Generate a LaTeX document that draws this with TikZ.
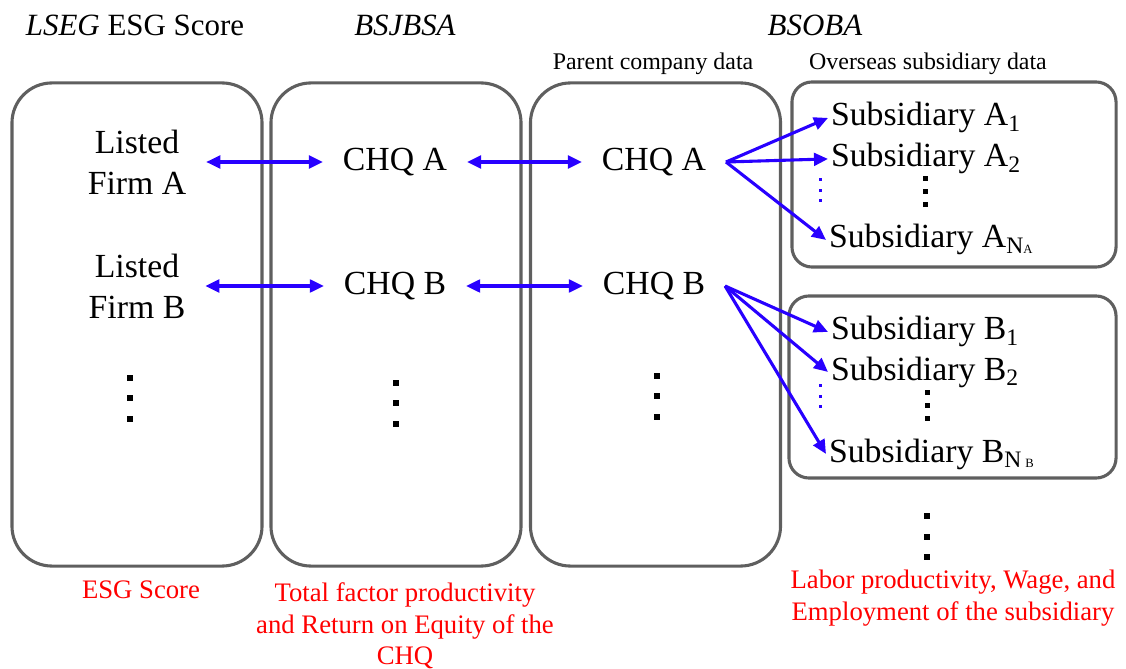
\documentclass[tikz,border=0pt]{standalone}
\usepackage{fontspec}
\setmainfont{Liberation Serif}
\usetikzlibrary{arrows.meta}
\definecolor{linkblue}{RGB}{40,0,255}
\definecolor{framegray}{RGB}{95,95,95}
\newcommand{\tinysub}[1]{{\fontsize{9}{9}\selectfont #1}}
\tikzset{%
  srcbox/.style    = {shape=rectangle, draw=framegray, line width=2.2pt,%
                      rounded corners=1cm},%
  subbox/.style    = {srcbox, rounded corners=0.5cm},%
  unit/.style      = {align=center, inner xsep=14pt,%
                      font=\fontsize{24}{29}\selectfont},%
  subname/.style   = {anchor=base west, inner xsep=2pt,%
                      font=\fontsize{24}{29}\selectfont},%
  srctitle/.style  = {font=\fontsize{22}{26}\selectfont},%
  subtitle/.style  = {font=\fontsize{17}{20}\selectfont},%
  varnote/.style   = {align=center, text=red,%
                      font=\fontsize{19}{22.5}\selectfont},%
  link/.style      = {draw=linkblue, line width=2.2pt,%
                      -{Triangle[length=10pt,width=9pt]}},%
  dlink/.style     = {link, {Triangle[length=10pt,width=9pt]}-{Triangle[length=10pt,width=9pt]}}%
}
\begin{document}
\begin{tikzpicture}[x=0.025cm,y=-0.025cm]
  \useasboundingbox (0,0) rectangle (1126,669);
  % data sources
  \node[srctitle] (tesg) at (135,25) {\textit{LSEG} ESG Score};
  \node[srctitle] (tbsj) at (405,25) {\textit{BSJBSA}};
  \node[srctitle] (tbso) at (815,25) {\textit{BSOBA}};
  \node[subtitle] (tpar) at (653,64) {Parent company data};
  \node[subtitle] (tovs) at (928,64) {Overseas subsidiary data};
  \node[srcbox, minimum width=6.25cm, minimum height=12.075cm] (esg) at (137,324.5) {};
  \node[srcbox, minimum width=6.25cm, minimum height=12.075cm] (bsj) at (396,324.5) {};
  \node[srcbox, minimum width=6.25cm, minimum height=12.075cm] (bso) at (655.5,324.5) {};
  \node[subbox, minimum width=8.1cm, minimum height=4.625cm] (subsA) at (954,174.5) {};
  \node[subbox, minimum width=8.175cm, minimum height=4.55cm] (subsB) at (952.5,387) {};
  % firms and CHQs
  \node[unit] (firmA) at (137,162) {Listed\\Firm A};
  \node[unit] (firmB) at (137,286) {Listed\\Firm B};
  \node[unit] (chqA) at (395,162) {CHQ A};
  \node[unit] (chqB) at (395,286) {CHQ B};
  \node[unit] (parA) at (654,162) {CHQ A};
  \node[unit] (parB) at (654,286) {CHQ B};
  % subsidiaries
  \node[subname] (subA1) at (828,126) {Subsidiary A\textsubscript{1}};
  \node[subname] (subA2) at (828,167) {Subsidiary A\textsubscript{2}};
  \node[subname] (subAN) at (826,248) {Subsidiary A\textsubscript{N\tinysub{A}}};
  \node[subname] (subB1) at (828,340) {Subsidiary B\textsubscript{1}};
  \node[subname] (subB2) at (828,380) {Subsidiary B\textsubscript{2}};
  \node[subname] (subBN) at (826,462) {Subsidiary B\textsubscript{N\,\tinysub{B}}};
  % links
  \draw[dlink] (firmA.east) -- (chqA.west);
  \draw[dlink] (firmB.east) -- (chqB.west);
  \draw[dlink] (chqA.east) -- (parA.west);
  \draw[dlink] (chqB.east) -- (parB.west);
  \foreach \s in {subA1,subA2,subAN}
    \draw[link] (parA.east) -- (\s.west);
  \foreach \s in {subB1,subB2,subBN}
    \draw[link] (parB.east) -- (\s.west);
  % vertical dots
  \foreach \x/\y in {130/378,396/383,657/376,927/516}
    \foreach \k in {0,1,2}
      \fill (\x-3,\y+\k*20.5-3) rectangle +(6,6);
  \foreach \x/\y in {925/179,927/393}
    \foreach \k in {0,1,2}
      \fill (\x-2.5,\y+\k*13-2.5) rectangle +(5,5);
  \foreach \y in {180,386}
    \foreach \k in {0,1,2}
      \fill[linkblue] (820-1.5,\y+\k*10.5-1.5) rectangle +(3,3);
  % variables
  \node[varnote] (vesg) at (141,590) {ESG Score};
  \node[varnote] (vchq) at (405,626) {Total factor productivity\\and Return on Equity of the\\CHQ};
  \node[varnote] (vsub) at (953,598) {Labor productivity, Wage, and\\Employment of the subsidiary};
\end{tikzpicture}
\end{document}
